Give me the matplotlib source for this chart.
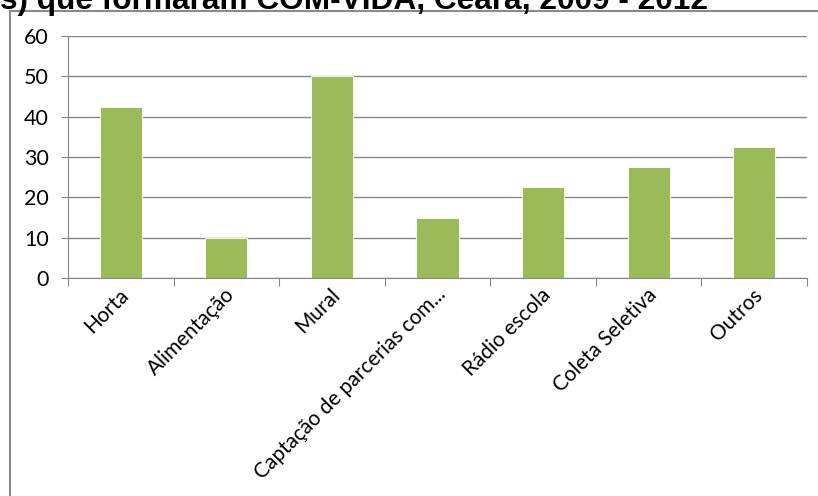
import matplotlib
matplotlib.use("Agg")
import matplotlib.pyplot as plt
from matplotlib.patches import Rectangle
import matplotlib.transforms as mtransforms
import numpy as np

# data
categories = ["Horta", "Alimentação", "Mural", "Captação de parcerias com...",
              "Rádio escola", "Coleta Seletiva", "Outros"]
values = [42.5, 10, 50, 15, 22.5, 27.5, 32.5]
y_ticks = [0, 10, 20, 30, 40, 50, 60]
title = "s) que formaram COM-VIDA, Ceará, 2009 - 2012"

bar_color = "#9BBB59"
grid_color = "#868686"

fig = plt.figure(figsize=(8.18, 4.96), dpi=100)
ax = fig.add_axes([68 / 818, 1 - 278 / 496, 739 / 818, 242 / 496])

ind = np.arange(len(categories))
ax.bar(ind, values, 0.4, color=bar_color, edgecolor="white", linewidth=0.6, zorder=3)

ax.set_xlim(-0.5, len(categories) - 0.5)
ax.set_ylim(0, 60)
ax.set_yticks(y_ticks)
ax.yaxis.grid(True, color=grid_color, linewidth=1.0, zorder=0)
ax.tick_params(axis="y", length=5, color=grid_color, labelsize=15.5, pad=9)

# category boundary ticks, labels at the centres
ax.set_xticks(np.arange(len(categories) + 1) - 0.5)
ax.set_xticklabels([])
ax.set_xticks(ind, minor=True)
ax.set_xticklabels(categories, minor=True, rotation=45, ha="right", va="center",
                   rotation_mode="anchor", fontsize=15)
ax.tick_params(axis="x", which="major", length=6, color=grid_color)
ax.tick_params(axis="x", which="minor", length=0, pad=12)

# nudge the slanted labels a little right, like the original
shift = mtransforms.ScaledTranslation(5 / 100, 3 / 100, fig.dpi_scale_trans)
for lab in ax.get_xticklabels(minor=True):
    lab.set_transform(lab.get_transform() + shift)

for side in ["top", "right"]:
    ax.spines[side].set_visible(False)
for side in ["left", "bottom"]:
    ax.spines[side].set_color(grid_color)

for lab in ax.get_xticklabels(minor=True) + ax.get_yticklabels():
    lab.set_fontfamily("Lato")
    lab.set_color("#000000")

# outer chart frame, partly cut by the picture edge
fig.patches.append(Rectangle((10 / 818, -0.1), 1.0, 1 - 11 / 496 + 0.1,
                             transform=fig.transFigure, fill=False,
                             edgecolor="#8a8a8a", linewidth=1.5))

fig.text(0.0, 1 - 9 / 496, title, fontsize=22.8, fontweight="bold",
         fontfamily="Liberation Sans", va="baseline", ha="left")

fig.savefig("out.png", dpi=100)
